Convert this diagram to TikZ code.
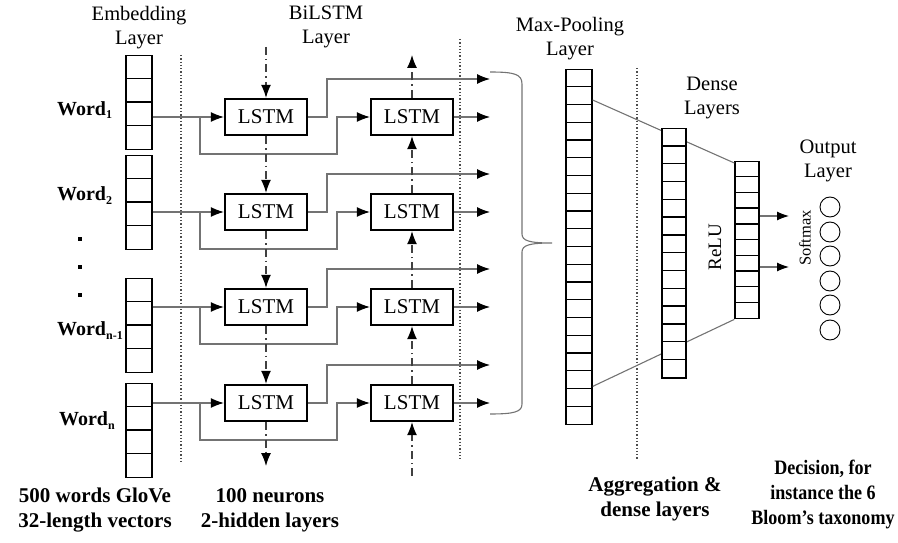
\documentclass[tikz,border=0pt]{standalone}
\usepackage{fontspec}
\setmainfont{Liberation Serif}
\usetikzlibrary{arrows.meta}
\newcommand\vcolumn[6]{% name, x, ytop, ncells, cellh, width
  \node[draw, line width=1.4pt, fill=white, minimum width=#6pt, minimum height={#4*#5pt}, inner sep=0pt, anchor=north] (#1) at (#2,#3) {};
  \pgfmathtruncatemacro\nmcells{#4-1}
  \foreach \i in {1,...,\nmcells} \draw[line width=1.4pt] ([yshift=-\i*#5pt]#1.north west) -- ([yshift=-\i*#5pt]#1.north east);
}
\newcommand\wordsub[1]{\raisebox{-4pt}{\fontsize{12}{12}\selectfont #1}}
\begin{document}
\begin{tikzpicture}[x=1pt,y=-1pt,
  lbl/.style={font=\fontsize{20.5}{24}\selectfont, align=center, inner sep=0pt},
  lstm/.style={draw, line width=2.3pt, minimum width=82pt, minimum height=36pt, inner sep=0pt, font=\fontsize{21}{24}\selectfont, fill=white},
  conn/.style={draw=black!55, line width=1.1pt},
  arr/.style={-{Latex[length=13pt,width=10pt,color=black]}},
  sarr/.style={-{Latex[length=12pt,width=9pt,color=black]}},
  dd/.style={draw=black!75, line width=1.2pt, dash pattern=on 8pt off 4pt on 1.5pt off 4pt},
  vdot/.style={draw=black!70, line width=1.5pt, dash pattern=on 1.3pt off 2pt},
  wlbl/.style={font=\bfseries\fontsize{20}{22}\selectfont, inner sep=0pt, anchor=base west},
  btxt/.style={font=\bfseries\fontsize{21}{25}\selectfont, align=center, inner sep=0pt},
  outc/.style={circle, draw, line width=0.9pt, minimum size=20pt, inner sep=0pt},
]
\useasboundingbox (0,0) rectangle (898,543);

% titles
\node[lbl] (tEmb) at (139,28) {Embedding\\Layer};
\node[lbl] (tBi) at (326,27) {BiLSTM\\Layer};
\node[lbl] (tMp) at (570,39) {Max-Pooling\\Layer};
\node[lbl] (tDe) at (712,98) {Dense\\Layers};
\node[lbl] (tOu) at (828,161) {Output\\Layer};

% dotted separators
\draw[vdot] (181,55) -- (181,463);
\draw[vdot] (460,39) -- (460,460);
\draw[vdot] (637,68) -- (637,460);

% embedding columns
\vcolumn{E1}{139}{55}{4}{23.5}{26}
\vcolumn{E2}{139}{155}{4}{23.5}{26}
\vcolumn{E3}{139}{278}{4}{23.5}{26}
\vcolumn{E4}{139}{383}{4}{23.5}{26}

% word labels
\node[wlbl] (w1) at (57,115) {Word\wordsub{1}};
\node[wlbl] (w2) at (57,200) {Word\wordsub{2}};
\node[wlbl] (w3) at (57,335) {Word\wordsub{n-1}};
\node[wlbl] (w4) at (59,425) {Word\wordsub{n}};
\foreach \yy/\nm in {239/d1,267/d2,295/d3}
  \node[fill=black, minimum size=4.5pt, inner sep=0pt] (\nm) at (80,\yy) {};

% LSTM cells
\foreach \k/\r in {1/117,2/212,3/307,4/403}{
  \node[lstm] (L\k) at (266,\r) {LSTM};
  \node[lstm] (R\k) at (412,\r) {LSTM};
  \coordinate (B\k) at (200,\r);
  \coordinate (O\k) at (490,\r-38);
  \coordinate (P\k) at (490,\r);
}

% row connectors
\foreach \k in {1,...,4}{
  \draw[conn,arr] (E\k.east |- L\k.west) -- (L\k.west);
  \draw[conn,arr] (B\k) -- ++(0,37) -| (337,0 |- R\k.west) -- (R\k.west);
  \draw[conn,arr] (L\k.east) -| ([xshift=-163pt]O\k) -- (O\k);
  \draw[conn,arr] (R\k.east) -- (P\k);
}

% vertical dash-dot (forward: down, backward: up)
\coordinate (Ltop) at (266,47);
\coordinate (Lbot) at (266,466);
\coordinate (Rtop) at (412,55);
\coordinate (Rbot) at (412,476);
\draw[dd,arr] (Ltop) -- (L1.north);
\draw[dd,arr] (L1.south) -- (L2.north);
\draw[dd,arr] (L2.south) -- (L3.north);
\draw[dd,arr] (L3.south) -- (L4.north);
\draw[dd,arr] (L4.south) -- (Lbot);
\draw[dd,arr] (Rbot) -- (R4.south);
\draw[dd,arr] (R4.north) -- (R3.south);
\draw[dd,arr] (R3.north) -- (R2.south);
\draw[dd,arr] (R2.north) -- (R1.south);
\draw[dd,arr] (R1.north) -- (Rtop);

% brace
\draw[conn] (490,72) .. controls (514,72) and (522,74) .. (522,84) -- (522,234)
  .. controls (522,241) and (530,243) .. (552,243)
  .. controls (530,243) and (522,245) .. (522,252) -- (522,404)
  .. controls (522,412) and (514,414) .. (490,414);

% max pooling, dense
\vcolumn{MP}{579}{69}{20}{17.75}{26}
\vcolumn{D2}{747}{161}{10}{15.7}{24}
\draw[conn] ([yshift=-31pt]MP.north east) -- ([yshift=-2pt]D2.north west);
\draw[conn] ([yshift=39pt]MP.south east) -- (D2.south west);
\vcolumn{D1}{674}{128}{14}{17.8}{24}

\node[lbl, font=\fontsize{19}{22}\selectfont, rotate=90] (relu) at (715,247) {ReLU};
\coordinate (s1) at (789,216);
\coordinate (s2) at (789,267);
\draw[conn,sarr] (D2.east |- s1) -- (s1);
\draw[conn,sarr] (D2.east |- s2) -- (s2);
\node[font=\fontsize{16.5}{18}\selectfont, rotate=90, inner sep=0pt] (smax) at (805,238) {Softmax};
\foreach \k/\yy in {1/207,2/232,3/256,4/281,5/305,6/330}
  \node[outc] (o\k) at (830,\yy) {};

% bottom texts
\node[btxt] (b1) at (95,510) {500 words GloVe\\32-length vectors};
\node[btxt] (b2) at (270,510) {100 neurons\\2-hidden layers};
\node[btxt] (b3) at (655,499) {Aggregation \&\\dense layers};
\node[btxt] (b4) at (823,494) {\scalebox{0.88}[1]{\fontsize{20.5}{26}\selectfont\begin{tabular}{@{}c@{}}Decision, for\\[-1pt]instance the 6\\[-1pt]Bloom’s taxonomy\end{tabular}}};
\end{tikzpicture}
\end{document}
